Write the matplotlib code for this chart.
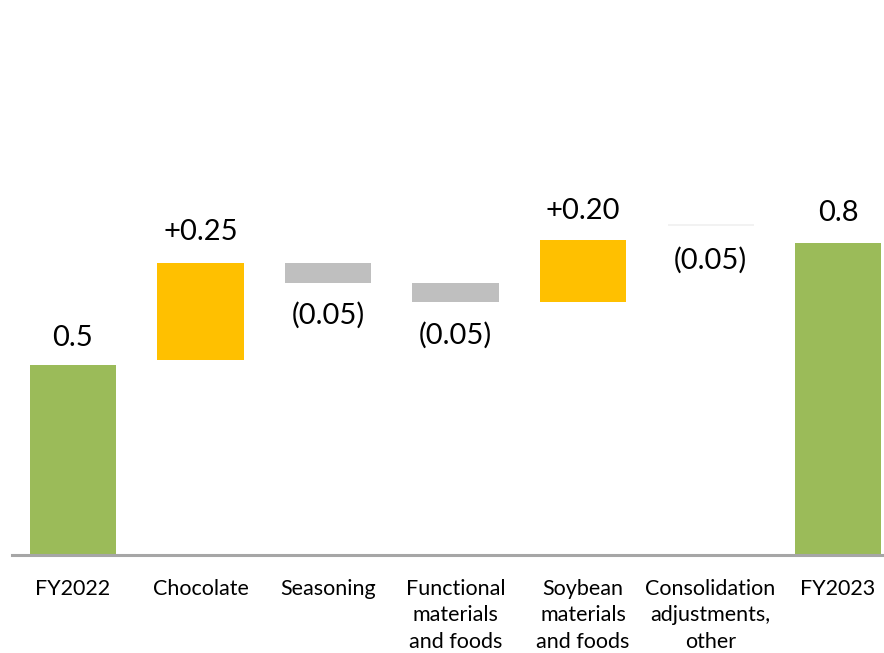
import matplotlib
matplotlib.use("Agg")
import matplotlib.pyplot as plt

categories = ["FY2022", "Chocolate", "Seasoning", "Functional\nmaterials\nand foods",
              "Soybean\nmaterials\nand foods", "Consolidation\nadjustments,\nother", "FY2023"]
bar_bottom = [0.0, 0.513, 0.716, 0.666, 0.666, 0.866, 0.0]
bar_top = [0.500, 0.768, 0.768, 0.716, 0.829, 0.870, 0.821]
value_labels = ["0.5", "+0.25", "(0.05)", "(0.05)", "+0.20", "(0.05)", "0.8"]
label_y = [0.57, 0.849, 0.631, 0.578, 0.905, 0.776, 0.901]
kinds = ["total", "up", "down", "down", "up", "flat", "total"]

colors = {"total": "#9BBB59", "up": "#FFC000", "down": "#BFBFBF", "flat": "#F2F2F2"}

plt.rcParams['font.family'] = ['Lato', 'DejaVu Sans']

fig = plt.figure(figsize=(8.84, 6.53), dpi=100)
ax = fig.add_axes([12/884, 1 - 555/653, 1 - 12/884, 555/653])

x = list(range(len(categories)))
heights = [t - b for t, b in zip(bar_top, bar_bottom)]
ax.bar(x, heights, bottom=bar_bottom, width=0.675,
       color=[colors[k] for k in kinds], edgecolor='none')

for xi, lab, ly in zip(x, value_labels, label_y):
    ax.text(xi, ly, lab, ha='center', va='center', fontsize=21, color='black')

ax.set_xlim(-0.478, 6.36)
ax.set_ylim(0, 555/380)
ax.set_xticks(x)
ax.set_xticklabels(categories, fontsize=15.5, linespacing=1.42, va='top', ha='center')
ax.tick_params(axis='x', length=0, pad=17)
ax.set_yticks([])
for s in ['top', 'right', 'left']:
    ax.spines[s].set_visible(False)
ax.spines['bottom'].set_color('#A6A6A6')
ax.spines['bottom'].set_linewidth(2.2)

fig.savefig("out.png", dpi=100)
